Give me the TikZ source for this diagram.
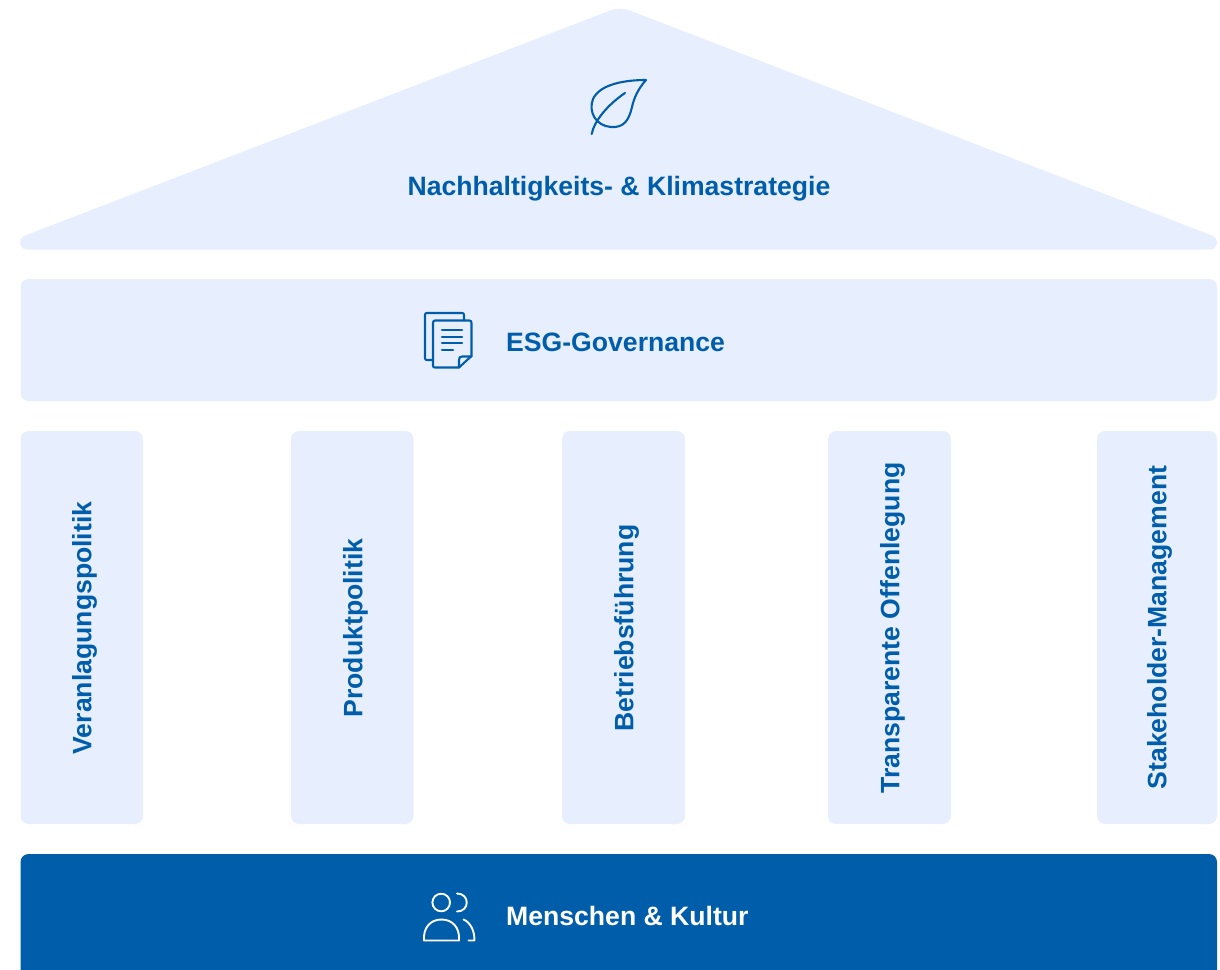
\documentclass[tikz,border=0pt]{standalone}
\usepackage{fontspec}
\setmainfont{Liberation Sans}
\definecolor{pale}{HTML}{E7EFFF}
\definecolor{navy}{HTML}{005DAA}
\tikzset{
  panel/.style={fill=pale,rounded corners=8pt},
  lab/.style={font=\fontsize{26.6}{32}\selectfont\bfseries,text=navy,inner sep=0pt},
  vlab/.style={lab,rotate=90},
  glyph/.style={draw=navy,line width=2.1pt,line cap=round,line join=round},
  wglyph/.style={draw=white,line width=1.9pt,line cap=round,line join=round}
}
\begin{document}
\begin{tikzpicture}[x=1pt,y=-1pt]
\useasboundingbox (0,0) rectangle (1220,969);
% roof
\fill[pale] (610,10.5) .. controls (616,8) and (624,8) .. (630,10.5)
  -- (1212,235.5) .. controls (1219,238.5) and (1219,249) .. (1210,249.5)
  -- (27,249.5) .. controls (18,249) and (18,238.5) .. (25,235.5) -- cycle;
% bands and columns
\fill[panel] (20.5,279) rectangle (1217,401);
\fill[panel] (20.5,431) rectangle (143,824);
\fill[panel] (291,431) rectangle (413.5,824);
\fill[panel] (562,431) rectangle (685,824);
\fill[panel] (828,431) rectangle (951,824);
\fill[panel] (1097,431) rectangle (1217,824);
\fill[navy,rounded corners=8pt] (20.5,854) rectangle (1217,985);
% texts
\node[lab] (roofT) at (619,189) {Nachhaltigkeits- \& Klimastrategie};
\node[lab,anchor=west] (esgT) at (506,342) {ESG-Governance};
\node[vlab] (c1) at (84.5,628) {Veranlagungspolitik};
\node[vlab] (c2) at (355.5,628) {Produktpolitik};
\node[vlab] (c3) at (626.5,628) {Betriebsführung};
\node[vlab] (c4) at (892.5,628) {Transparente Offenlegung};
\node[vlab] (c5) at (1159.5,627.5) {Stakeholder-Management};
\node[lab,anchor=west,text=white] (menT) at (506,916) {Menschen \& Kultur};
% leaf icon
\draw[glyph] (591.7,134) .. controls (594,122) and (606,106) .. (625,93);
\draw[glyph] (646,80) .. controls (625,80) and (600,84) .. (593,99)
  .. controls (588,112) and (596,126) .. (611,127)
  .. controls (624,128) and (629,120) .. (632,107)
  .. controls (634,98) and (638,89) .. (646,80) -- cycle;
% document icon
\draw[glyph] (433,360) -- (427,360) .. controls (425.5,360) and (425,359.5) .. (425,358)
  -- (425,315) .. controls (425,313.5) and (425.5,313) .. (427,313)
  -- (462,313) .. controls (463.5,313) and (464,313.5) .. (464,315) -- (464,320.5);
\draw[glyph] (459,367.5) -- (435,367.5) .. controls (433.5,367.5) and (433,367) .. (433,365.5)
  -- (433,323) .. controls (433,321.5) and (433.5,320.5) .. (435,320.5)
  -- (469.5,320.5) .. controls (471,320.5) and (471.5,321.5) .. (471.5,323)
  -- (471.5,356) -- cycle;
\draw[glyph] (459,367.5) -- (459,360) .. controls (459,357.5) and (460,356.5) .. (462,356.5) -- (471.5,356.5);
\draw[glyph] (442,330) -- (462,330);
\draw[glyph] (442,336.7) -- (462,336.7);
\draw[glyph] (442,343) -- (462,343);
\draw[glyph] (442,350.3) -- (453,350.3);
% people icon
\draw[wglyph] (441.2,902.5) circle (8.8);
\draw[wglyph] (457,893.5) .. controls (470,893.5) and (470,911.5) .. (457,911.5);
\draw[wglyph] (424,940.5) .. controls (423,927) and (431,919.5) .. (441.5,919.5)
  .. controls (452,919.5) and (460,927) .. (459,940.5) -- cycle;
\draw[wglyph] (463.5,919.5) .. controls (470,922) and (475,931) .. (474.3,940.5) -- (468.5,940.5);
\end{tikzpicture}
\end{document}
